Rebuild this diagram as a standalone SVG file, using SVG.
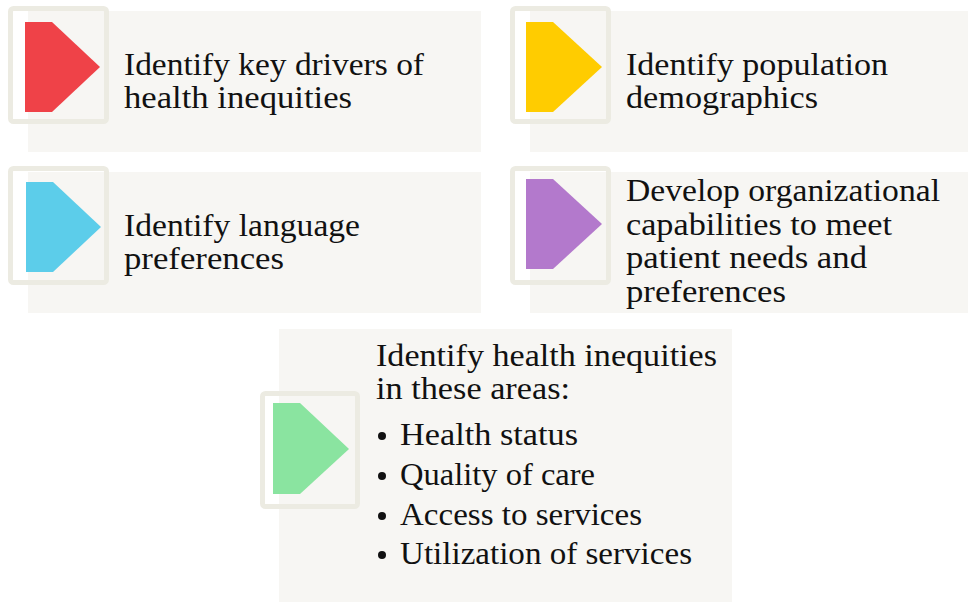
<svg xmlns="http://www.w3.org/2000/svg" width="968" height="602" viewBox="0 0 968 602">
<defs>
<style>
.bg{fill:#f7f6f3}
.frame{fill:none;stroke:#ecebe2;stroke-width:5}
.t{font-family:"Liberation Serif","DejaVu Serif",serif;font-size:32px;fill:#111111}
</style>
</defs>
<rect width="968" height="602" fill="#ffffff"/>
<g id="node-drivers">
<rect class="bg" x="28" y="11" width="453" height="141"/>
<rect class="frame" x="10.5" y="8.5" width="96" height="113" rx="3"/>
<polygon points="25,22 52,22 100,67 52,112 25,112" fill="#ef4248"/>
<text class="t"><tspan x="124" y="75" textLength="300" lengthAdjust="spacingAndGlyphs">Identify key drivers of</tspan><tspan x="124" y="108" textLength="228" lengthAdjust="spacingAndGlyphs">health inequities</tspan></text>
</g>
<g id="node-demographics">
<rect class="bg" x="530" y="11" width="438" height="141"/>
<rect class="frame" x="512.5" y="8.5" width="96" height="113" rx="3"/>
<polygon points="526,22 553,22 602,67 553,112 526,112" fill="#ffcc00"/>
<text class="t"><tspan x="626" y="75" textLength="262" lengthAdjust="spacingAndGlyphs">Identify population</tspan><tspan x="626" y="108" textLength="192" lengthAdjust="spacingAndGlyphs">demographics</tspan></text>
</g>
<g id="node-language">
<rect class="bg" x="28" y="172" width="453" height="141"/>
<rect class="frame" x="10.5" y="168.5" width="96" height="114" rx="3"/>
<polygon points="26,182 53,182 101,227 53,272 26,272" fill="#5ccdea"/>
<text class="t"><tspan x="124" y="236" textLength="236" lengthAdjust="spacingAndGlyphs">Identify language</tspan><tspan x="124" y="269" textLength="160" lengthAdjust="spacingAndGlyphs">preferences</tspan></text>
</g>
<g id="node-capabilities">
<rect class="bg" x="530" y="172" width="438" height="141"/>
<rect class="frame" x="512.5" y="168.5" width="96" height="114" rx="3"/>
<polygon points="526,179 553,179 602,224 553,269 526,269" fill="#b379cc"/>
<text class="t"><tspan x="626" y="201" textLength="314" lengthAdjust="spacingAndGlyphs">Develop organizational</tspan><tspan x="626" y="235" textLength="266" lengthAdjust="spacingAndGlyphs">capabilities to meet</tspan><tspan x="626" y="268" textLength="241" lengthAdjust="spacingAndGlyphs">patient needs and</tspan><tspan x="626" y="302" textLength="160" lengthAdjust="spacingAndGlyphs">preferences</tspan></text>
</g>
<g id="node-areas">
<rect class="bg" x="279" y="329" width="453" height="273"/>
<rect class="frame" x="262.5" y="393.5" width="95" height="113" rx="3"/>
<polygon points="273,403 300,403 349,449 300,494 273,494" fill="#8ae4a0"/>
<text class="t"><tspan x="376" y="366" textLength="341" lengthAdjust="spacingAndGlyphs">Identify health inequities</tspan><tspan x="376" y="399" textLength="194" lengthAdjust="spacingAndGlyphs">in these areas:</tspan></text>
<g fill="#111111">
<circle cx="382" cy="436" r="4"/>
<circle cx="382" cy="476" r="4"/>
<circle cx="382" cy="516" r="4"/>
<circle cx="382" cy="555" r="4"/>
</g>
<text class="t"><tspan x="400" y="445" textLength="178" lengthAdjust="spacingAndGlyphs">Health status</tspan><tspan x="400" y="485" textLength="195" lengthAdjust="spacingAndGlyphs">Quality of care</tspan><tspan x="400" y="525" textLength="242" lengthAdjust="spacingAndGlyphs">Access to services</tspan><tspan x="400" y="564" textLength="292" lengthAdjust="spacingAndGlyphs">Utilization of services</tspan></text>
</g>
<g id="connectors"></g>
</svg>
